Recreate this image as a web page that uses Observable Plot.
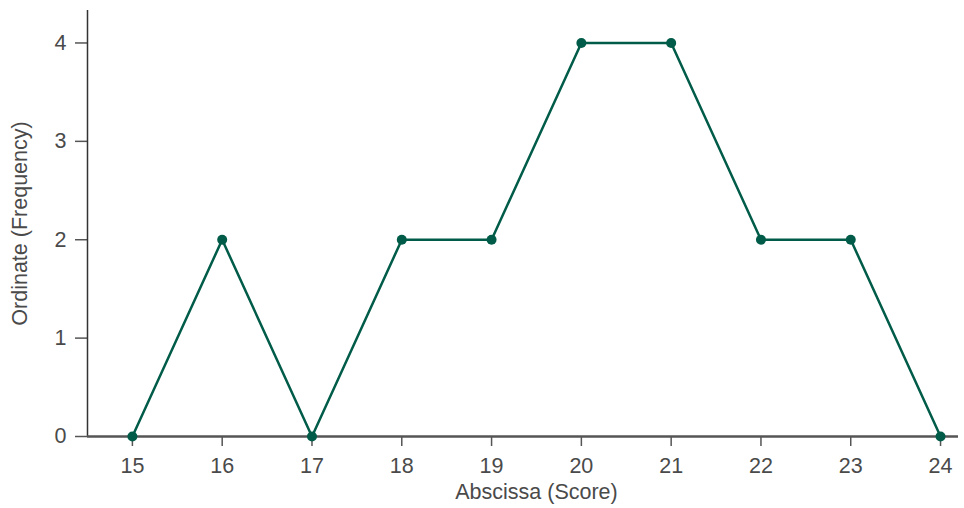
<!DOCTYPE html>
<html>
<head>
<meta charset="utf-8">
<script src="https://cdn.jsdelivr.net/npm/d3@7"></script>
<script src="https://cdn.jsdelivr.net/npm/@observablehq/plot@0.6"></script>
<style>
  html, body { margin: 0; padding: 0; background: #fff; }
  #chart svg { display: block; }
</style>
</head>
<body>
<div id="chart"></div>
<script>
const scores = [15, 16, 17, 18, 19, 20, 21, 22, 23, 24];
const frequencies = [0, 2, 0, 2, 2, 4, 4, 2, 2, 0];
const yTicks = [0, 1, 2, 3, 4];
const xLabel = "Abscissa (Score)";
const yLabel = "Ordinate (Frequency)";

const data = scores.map((s, i) => ({score: s, freq: frequencies[i]}));
const lineColor = "#005c48";
const axisColor = "#555555";
const textColor = "#4a4a4a";
const xDomain = [14.5, 24.2];
const yDomain = [0, 4.33];
const fs = 21.5;

const chart = Plot.plot({
  width: 964,
  height: 508,
  marginLeft: 87,
  marginRight: 6,
  marginTop: 10,
  marginBottom: 72,
  style: {fontFamily: "'Liberation Sans', Arial, sans-serif", fontSize: fs + "px", color: textColor, background: "#fff"},
  x: {domain: xDomain, label: null},
  y: {domain: yDomain, label: null},
  marks: [
    Plot.axisX(scores, {tickSize: 10, tickPadding: 11, tickFormat: "d", stroke: axisColor, strokeWidth: 1.5, fill: textColor, fontSize: fs, label: null}),
    Plot.axisY(yTicks, {tickSize: 12, tickPadding: 9, tickFormat: "d", stroke: axisColor, strokeWidth: 1.5, fill: textColor, fontSize: fs, label: null}),
    Plot.ruleX([xDomain[0]], {y1: yDomain[0], y2: yDomain[1], stroke: "#333", strokeWidth: 1.5}),
    Plot.ruleY([0], {x1: xDomain[0], x2: xDomain[1], stroke: axisColor, strokeWidth: 2.5}),
    Plot.line(data, {x: "score", y: "freq", stroke: lineColor, strokeWidth: 2.5}),
    Plot.dot(data, {x: "score", y: "freq", r: 5, fill: lineColor, stroke: "none"}),
    Plot.text([xLabel], {frameAnchor: "bottom", x: (scores[0] + scores[scores.length - 1]) / 2, dy: 62, fontSize: fs, fill: textColor, text: d => d}),
    Plot.text([yLabel], {frameAnchor: "left", textAnchor: "middle", dx: -67, rotate: -90, fontSize: fs, fill: textColor, text: d => d})
  ]
});
document.getElementById("chart").appendChild(chart);
</script>
</body>
</html>
